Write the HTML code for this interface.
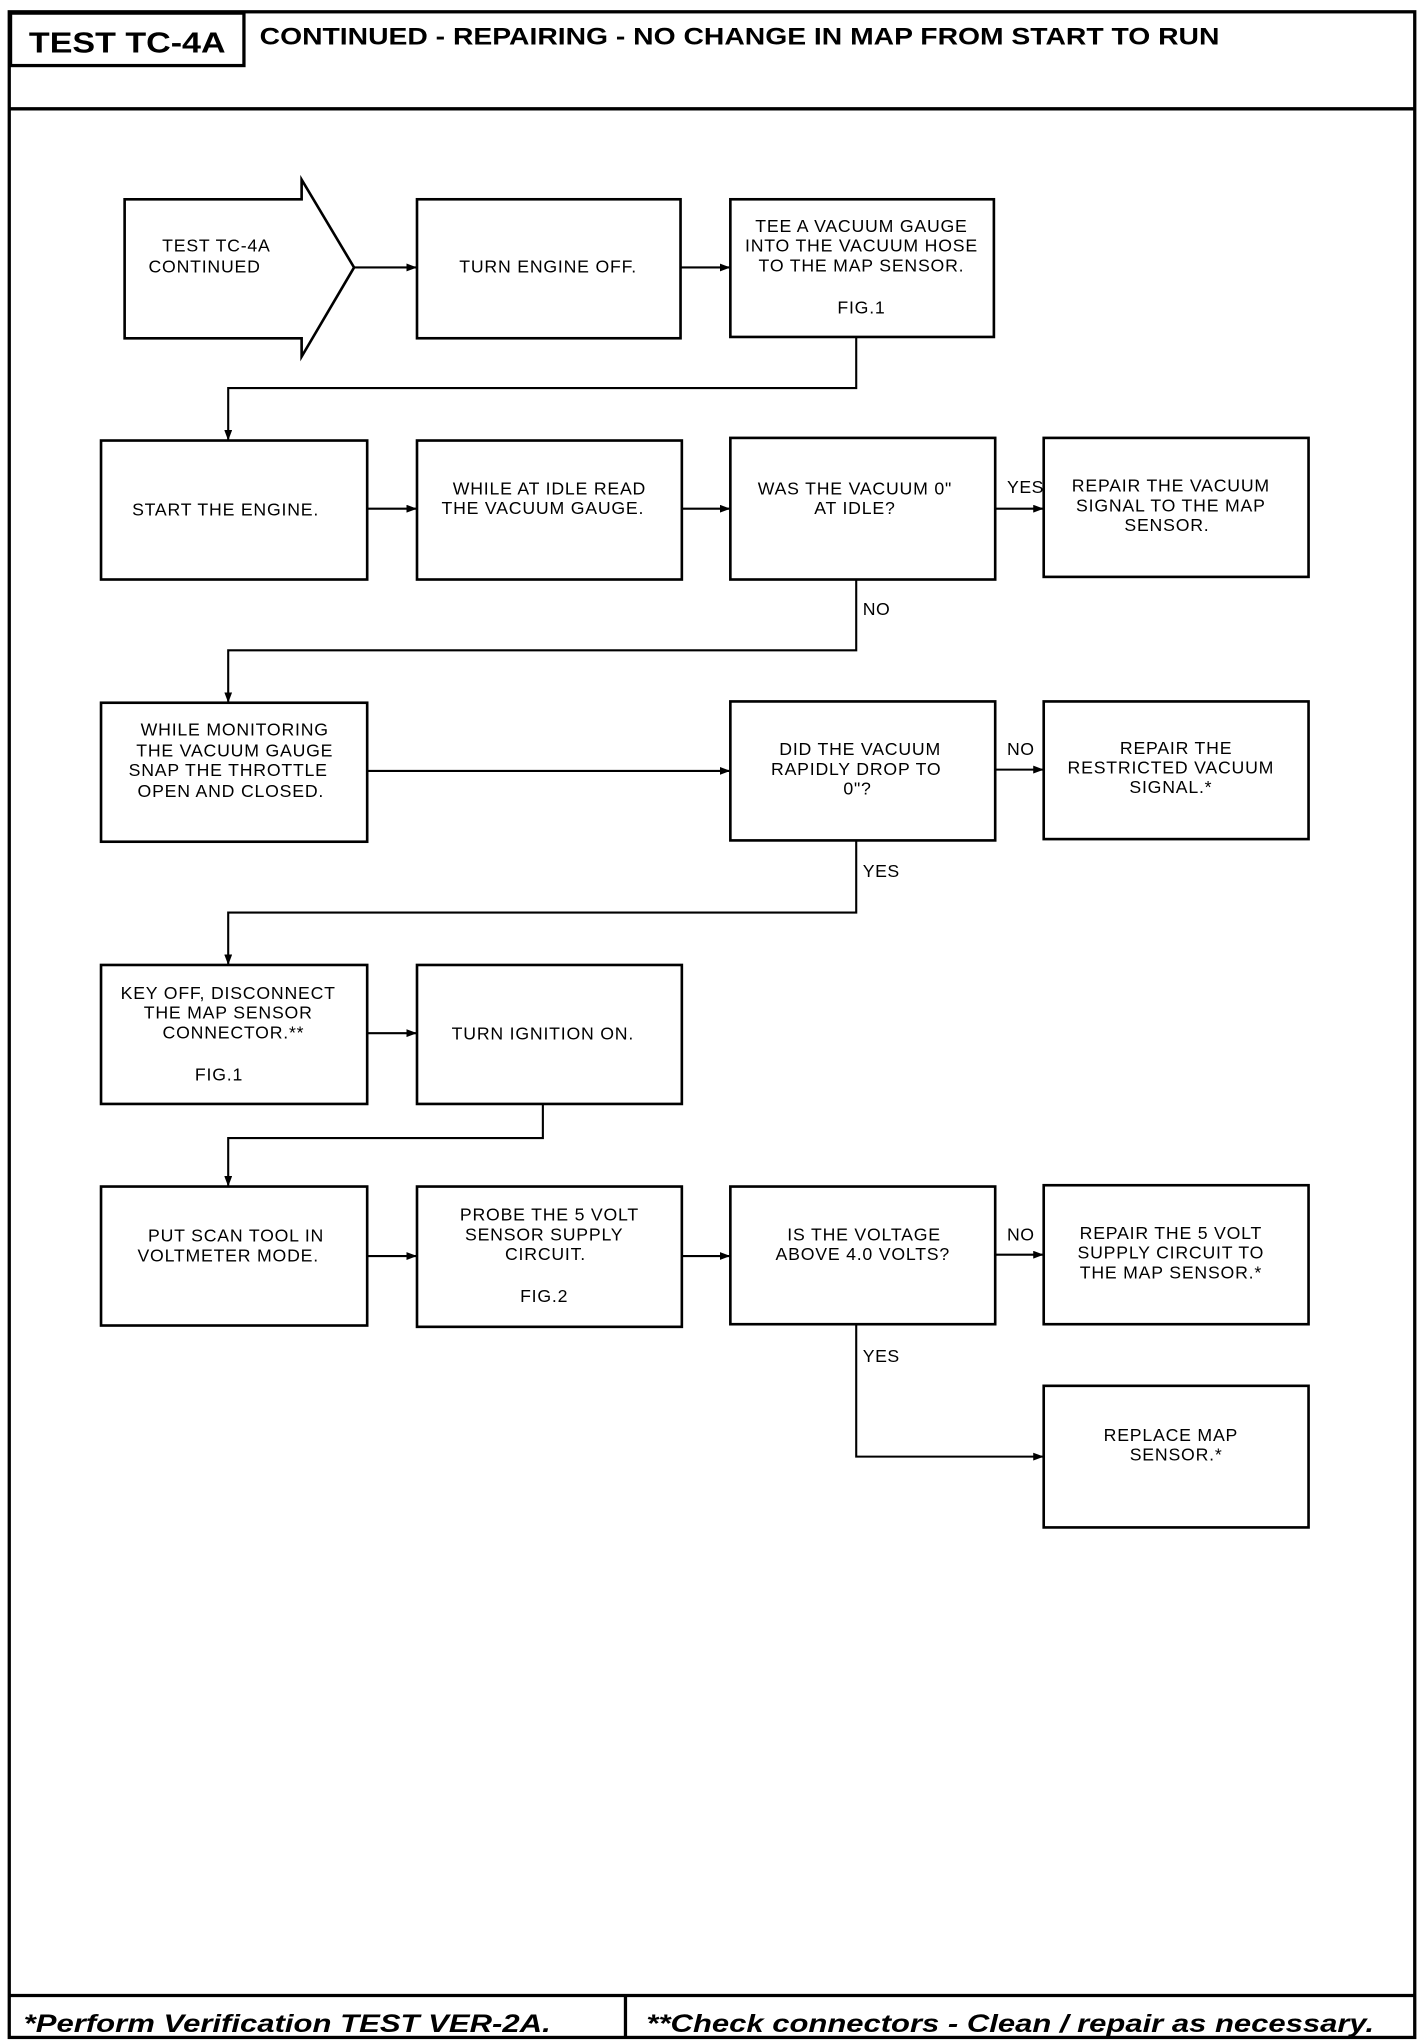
<!DOCTYPE html>
<html><head><meta charset="utf-8"><style>
html,body{margin:0;padding:0;background:#fff}
svg{display:block}
text{font-family:"Liberation Sans",sans-serif;fill:#000}
.t{font-size:13.5px;text-anchor:middle;letter-spacing:0.6px}
.l{font-size:13.5px;letter-spacing:0.4px}
</style></head><body>
<svg width="1424" height="2044" viewBox="0 0 1086 1559" xmlns="http://www.w3.org/2000/svg">
<defs><marker id="a" markerWidth="8" markerHeight="6" refX="8" refY="3" orient="auto" markerUnits="userSpaceOnUse"><path d="M0,0 L8,3 L0,6z" fill="#000"/></marker></defs>
<g fill="none" stroke="#000" stroke-width="2.5">
<rect x="7" y="9" width="1072" height="1545"/>
<line x1="7" y1="83" x2="1079" y2="83"/>
<rect x="8" y="10" width="178" height="40"/>
<line x1="7" y1="1522" x2="1079" y2="1522"/>
<line x1="477" y1="1522" x2="477" y2="1554"/>
</g>
<text x="22" y="40" textLength="150" lengthAdjust="spacingAndGlyphs" style="font-size:22px;font-weight:bold">TEST TC-4A</text>
<text x="198" y="34" textLength="732" lengthAdjust="spacingAndGlyphs" style="font-size:18px;font-weight:bold">CONTINUED - REPAIRING - NO CHANGE IN MAP FROM START TO RUN</text>
<text x="18" y="1550" textLength="402" lengthAdjust="spacingAndGlyphs" style="font-size:19px;font-weight:bold;font-style:italic">*Perform Verification TEST VER-2A.</text>
<text x="493" y="1550" textLength="555" lengthAdjust="spacingAndGlyphs" style="font-size:19px;font-weight:bold;font-style:italic">**Check connectors - Clean / repair as necessary.</text>

<g fill="none" stroke="#000" stroke-width="2">
<path d="M95,152 H230 V137 L270,204 L230,272 V258 H95 Z"/>
<rect x="318" y="152" width="201" height="106"/>
<rect x="557" y="152" width="201" height="105"/>
<rect x="77" y="336" width="203" height="106"/>
<rect x="318" y="336" width="202" height="106"/>
<rect x="557" y="334" width="202" height="108"/>
<rect x="796" y="334" width="202" height="106"/>
<rect x="77" y="536" width="203" height="106"/>
<rect x="557" y="535" width="202" height="106"/>
<rect x="796" y="535" width="202" height="105"/>
<rect x="77" y="736" width="203" height="106"/>
<rect x="318" y="736" width="202" height="106"/>
<rect x="77" y="905" width="203" height="106"/>
<rect x="318" y="905" width="202" height="107"/>
<rect x="557" y="905" width="202" height="105"/>
<rect x="796" y="904" width="202" height="106"/>
<rect x="796" y="1057" width="202" height="108"/>
</g>
<g fill="none" stroke="#000" stroke-width="1.6" marker-end="url(#a)">
<path d="M270,204 H318"/>
<path d="M519,204 H557"/>
<path d="M653,257 V296 H174 V336"/>
<path d="M280,388 H318"/>
<path d="M520,388 H557"/>
<path d="M759,388 H796"/>
<path d="M653,442 V496 H174 V536"/>
<path d="M280,588 H557"/>
<path d="M759,587 H796"/>
<path d="M653,641 V696 H174 V736"/>
<path d="M280,788 H318"/>
<path d="M414,842 V868 H174 V905"/>
<path d="M280,958 H318"/>
<path d="M520,958 H557"/>
<path d="M759,957 H796"/>
<path d="M653,1010 V1111 H796"/>
</g>
<text class="l" x="768" y="376">YES</text>
<text class="l" x="658" y="469">NO</text>
<text class="l" x="768" y="576">NO</text>
<text class="l" x="658" y="669">YES</text>
<text class="l" x="768" y="946">NO</text>
<text class="l" x="658" y="1039">YES</text>

<text class="t" x="165" y="192">TEST TC-4A</text>
<text class="t" x="156" y="208">CONTINUED</text>
<text class="t" x="418" y="208">TURN ENGINE OFF.</text>
<text class="t" x="657" y="177">TEE A VACUUM GAUGE</text>
<text class="t" x="657" y="192">INTO THE VACUUM HOSE</text>
<text class="t" x="657" y="207">TO THE MAP SENSOR.</text>
<text class="t" x="657" y="239">FIG.1</text>
<text class="t" x="172" y="393">START THE ENGINE.</text>
<text class="t" x="419" y="377">WHILE AT IDLE READ</text>
<text class="t" x="414" y="392">THE VACUUM GAUGE.</text>
<text class="t" x="652" y="377">WAS THE VACUUM 0"</text>
<text class="t" x="652" y="392">AT IDLE?</text>
<text class="t" x="893" y="375">REPAIR THE VACUUM</text>
<text class="t" x="893" y="390">SIGNAL TO THE MAP</text>
<text class="t" x="890" y="405">SENSOR.</text>
<text class="t" x="179" y="561">WHILE MONITORING</text>
<text class="t" x="179" y="577">THE VACUUM GAUGE</text>
<text class="t" x="174" y="592">SNAP THE THROTTLE</text>
<text class="t" x="176" y="608">OPEN AND CLOSED.</text>
<text class="t" x="656" y="576">DID THE VACUUM</text>
<text class="t" x="653" y="591">RAPIDLY DROP TO</text>
<text class="t" x="654" y="606">0"?</text>
<text class="t" x="897" y="575">REPAIR THE</text>
<text class="t" x="893" y="590">RESTRICTED VACUUM</text>
<text class="t" x="893" y="605">SIGNAL.*</text>
<text class="t" x="174" y="762">KEY OFF, DISCONNECT</text>
<text class="t" x="174" y="777">THE MAP SENSOR</text>
<text class="t" x="178" y="792">CONNECTOR.**</text>
<text class="t" x="167" y="824">FIG.1</text>
<text class="t" x="414" y="793">TURN IGNITION ON.</text>
<text class="t" x="180" y="947">PUT SCAN TOOL IN</text>
<text class="t" x="174" y="962">VOLTMETER MODE.</text>
<text class="t" x="419" y="931">PROBE THE 5 VOLT</text>
<text class="t" x="415" y="946">SENSOR SUPPLY</text>
<text class="t" x="416" y="961">CIRCUIT.</text>
<text class="t" x="415" y="993">FIG.2</text>
<text class="t" x="659" y="946">IS THE VOLTAGE</text>
<text class="t" x="658" y="961">ABOVE 4.0 VOLTS?</text>
<text class="t" x="893" y="945">REPAIR THE 5 VOLT</text>
<text class="t" x="893" y="960">SUPPLY CIRCUIT TO</text>
<text class="t" x="893" y="975">THE MAP SENSOR.*</text>
<text class="t" x="893" y="1099">REPLACE MAP</text>
<text class="t" x="897" y="1114">SENSOR.*</text>
</svg>
</body></html>
